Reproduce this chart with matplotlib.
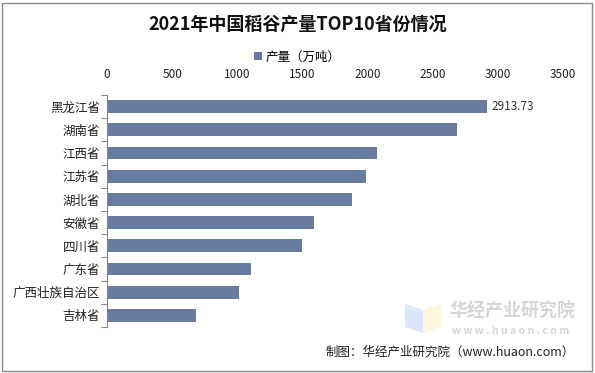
import matplotlib.pyplot as plt
from matplotlib.patches import Rectangle, Polygon

plt.rcParams['font.family'] = ['Noto Sans CJK SC', 'DejaVu Sans']

provinces = ['黑龙江省', '湖南省', '江西省', '江苏省', '湖北省',
             '安徽省', '四川省', '广东省', '广西壮族自治区', '吉林省']
output = [2913.73, 2683.1, 2073.9, 1984.6, 1883.5,
          1587.7, 1495.3, 1103.7, 1012.7, 686.9]
xticks = [0, 500, 1000, 1500, 2000, 2500, 3000, 3500]

W, H = 595, 373
fig = plt.figure(figsize=(W / 100, H / 100), dpi=100)

# axes box in pixels: left 107, right 563, top 95, bottom 327
ax = fig.add_axes([107 / W, 1 - 327 / H, (563 - 107) / W, (327 - 95) / H])
y = list(range(len(provinces)))
bars = ax.barh(y, output, height=0.55, color='#687ca0', label='产量（万吨）')
ax.set_ylim(len(provinces) - 0.5, -0.5)
ax.set_xlim(0, 3500)
ax.set_yticks(y)
ax.set_yticklabels(provinces, fontsize=9, color='#222222')
ax.set_yticks([i - 0.5 for i in range(len(provinces) + 1)], minor=True)
ax.tick_params(axis='y', which='major', length=0, pad=5)
ax.tick_params(axis='y', which='minor', length=4, color='#888888', width=0.8)
ax.xaxis.tick_top()
ax.set_xticks(xticks)
ax.set_xticklabels([str(t) for t in xticks], fontsize=8.5, color='#222222')
ax.tick_params(axis='x', length=0, pad=10)
for s in ['top', 'right', 'bottom']:
    ax.spines[s].set_visible(False)
ax.spines['left'].set_color('#888888')
ax.spines['left'].set_linewidth(0.8)

ax.text(output[0] + 40, 0, f'{output[0]:.2f}', va='center', ha='left',
        fontsize=8.5, color='#333333')

fig.text(0.5, 1 - 24 / H, '2021年中国稻谷产量TOP10省份情况', ha='center', va='center',
         fontsize=13, fontweight='bold', color='#111111')
leg = fig.legend(handles=[bars], loc='center', bbox_to_anchor=(0.5, 1 - 57 / H),
                 frameon=False, fontsize=9, handlelength=0.6, handleheight=0.6,
                 handletextpad=0.3)

# watermark
fig.patches.append(Polygon([[405 / W, 1 - 304 / H], [423 / W, 1 - 310 / H],
                            [423 / W, 1 - 333 / H], [405 / W, 1 - 327 / H]],
                           closed=True, transform=fig.transFigure,
                           facecolor='#dbe8fb', edgecolor='none'))
fig.patches.append(Polygon([[423 / W, 1 - 310 / H], [441 / W, 1 - 304 / H],
                            [441 / W, 1 - 327 / H], [423 / W, 1 - 333 / H]],
                           closed=True, transform=fig.transFigure,
                           facecolor='#fdf6dc', edgecolor='none'))
fig.text(450 / W, 1 - 311 / H, '华经产业研究院', fontsize=13, color='#d6d6d6',
         ha='left', va='center', fontweight='bold')
fig.text(452 / W, 1 - 331 / H, 'w w w . h u a o n . c o m', fontsize=7.5,
         color='#d6d6d6', ha='left', va='center', fontweight='bold')

fig.text(575 / W, 1 - 352 / H, '制图：华经产业研究院（www.huaon.com）', fontsize=9,
         color='#222222', ha='right', va='center')

fig.patches.append(Rectangle((2 / W, 2 / H), (W - 5) / W, (H - 5) / H,
                             transform=fig.transFigure, fill=False,
                             edgecolor='#8a8a8a', linewidth=1))

fig.savefig('out.png', dpi=100)
